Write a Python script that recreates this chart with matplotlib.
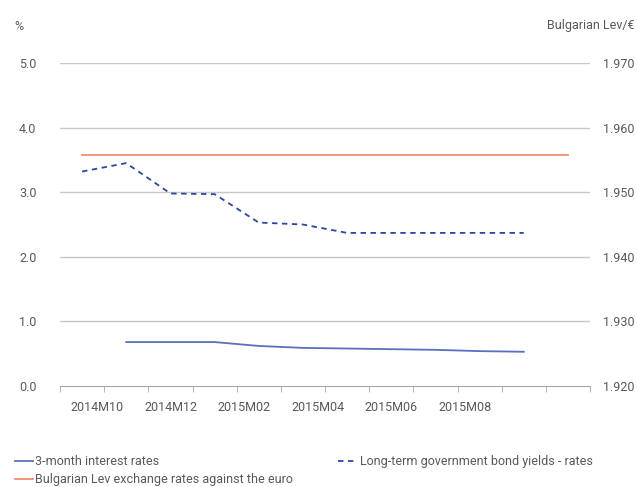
import numpy as np
import matplotlib
matplotlib.use('Agg')
import matplotlib.pyplot as plt
from matplotlib.lines import Line2D

plt.rcParams['font.family'] = ['Roboto', 'DejaVu Sans']

months = ['2014M10', '2014M11', '2014M12', '2015M01', '2015M02', '2015M03',
          '2015M04', '2015M05', '2015M06', '2015M07', '2015M08', '2015M09']
short_rate = [np.nan, 0.68, 0.68, 0.68, 0.62, 0.59, 0.58, 0.57, 0.56, 0.54, 0.53, np.nan]
long_rate = [3.32, 3.45, 2.98, 2.97, 2.53, 2.50, 2.37, 2.37, 2.37, 2.37, 2.37, np.nan]
bgn_eur = [1.95583] * 12
tick_labels = months[::2]

grey = '#595959'
blue_solid = '#5a6fc0'
blue_dash = '#2c46a0'
orange = '#ef8f6a'
fs = 9

fig = plt.figure(figsize=(6.37, 4.87), dpi=100)
ax = fig.add_axes([60/637, 1 - 386/487, 530/637, 323/487])
ax2 = ax.twinx()

x = np.arange(len(months))
ax.plot(x, short_rate, color=blue_solid, lw=1.3)
ax.plot(x, long_rate, color=blue_dash, lw=1.3, dashes=(3, 2.5))
ax2.plot(x, bgn_eur, color=orange, lw=1.3)

ax.set_xlim(-0.5, len(months) - 0.5)
ax.set_ylim(0, 5)
ax2.set_ylim(1.92, 1.97)
ax.set_yticks(np.arange(0, 5.1, 1))
ax.set_yticklabels([f'{v:.1f}' for v in np.arange(0, 5.1, 1)])
ax2.set_yticks(np.arange(1.92, 1.971, 0.01))
ax2.set_yticklabels([f'{v:.3f}' for v in np.arange(1.92, 1.971, 0.01)])

for v in np.arange(1, 5.1, 1):
    ax.axhline(v, color='#c8c8c8', lw=1, zorder=0)

for a in (ax, ax2):
    for s in a.spines.values():
        s.set_visible(False)
ax.spines['bottom'].set_visible(True)
ax.spines['bottom'].set_color('#a6a6a6')

ax.set_xticks(np.linspace(0.34, 8.67, len(tick_labels)))
ax.set_xticklabels(tick_labels)
ax.set_xticks(np.arange(-0.5, len(months)), minor=True)
ax.tick_params(axis='x', which='major', length=0, pad=11, labelsize=fs, labelcolor=grey)
ax.tick_params(axis='x', which='minor', length=4, color='#a6a6a6', direction='out')
ax.tick_params(axis='y', length=0, pad=17, labelsize=fs, labelcolor=grey)
ax2.tick_params(axis='y', length=0, pad=9, labelsize=fs, labelcolor=grey)

fig.text(14/637, 1 - 26/487, '%', color=grey, fontsize=fs, va='center')
fig.text(634/637, 1 - 26/487, 'Bulgarian Lev/€', color=grey, fontsize=fs, va='center', ha='right')

h_short = Line2D([], [], color=blue_solid, lw=1.3)
h_bgn = Line2D([], [], color=orange, lw=1.3)
h_long = Line2D([], [], color=blue_dash, lw=1.3, dashes=(3, 2.5))
leg1 = fig.legend([h_short, h_bgn], ['3-month interest rates',
                                     'Bulgarian Lev exchange rates against the euro'],
                  loc='upper left', bbox_to_anchor=(15/637, 1 - 455/487), borderpad=0,
                  frameon=False, fontsize=fs, labelcolor=grey, handlelength=1.4,
                  handletextpad=0.2, labelspacing=0.4, borderaxespad=0)
fig.legend([h_long], ['Long-term government bond yields - rates'],
           loc='upper left', bbox_to_anchor=(338/637, 1 - 455/487), borderpad=0,
           frameon=False, fontsize=fs, labelcolor=grey, handlelength=1.4,
           handletextpad=0.4, borderaxespad=0)

fig.savefig('out.png', dpi=100)
